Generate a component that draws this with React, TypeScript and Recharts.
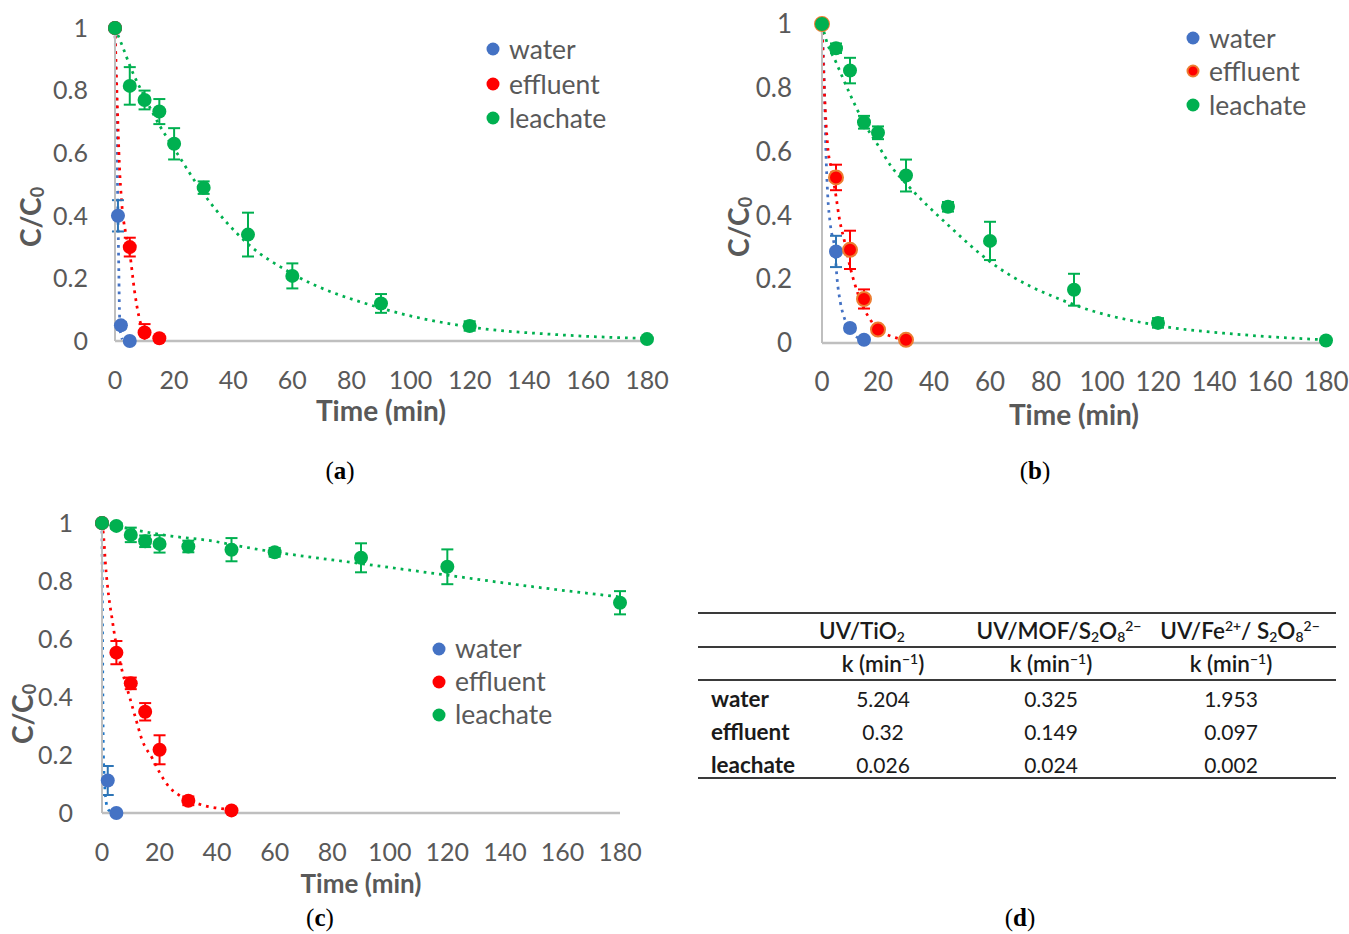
import React from 'react';
import { ComposedChart, Scatter, Line, XAxis, YAxis, ErrorBar } from 'recharts';

const FONT = 'Lato, "Open Sans", sans-serif';
const GREY = '#595959';
const AXIS = '#bfbfbf';
const BLUE = '#4472C4';
const BLUE_ERR = '#2E75B6';
const RED = '#FF0000';
const ORANGE = '#ED7D31';
const GREEN = '#00B050';

const seriesNames = ['water', 'effluent', 'leachate'];
const xTicks = [0, 20, 40, 60, 80, 100, 120, 140, 160, 180];
const yTicks = [0, 0.2, 0.4, 0.6, 0.8, 1];

// ---------- (a) ----------
const aWaterT = [0, 1, 2, 5];
const aWaterV = [1, 0.4, 0.05, 0.0];
const aWaterE = [0, 0.05, 0.01, 0];
const aEffT = [0, 5, 10, 15];
const aEffV = [1, 0.3, 0.027, 0.009];
const aEffE = [0, 0.03, 0.027, 0];
const aLeaT = [0, 5, 10, 15, 20, 30, 45, 60, 90, 120, 180];
const aLeaV = [1, 0.815, 0.77, 0.733, 0.63, 0.49, 0.34, 0.208, 0.12, 0.048, 0.006];
const aLeaE = [0, 0.06, 0.03, 0.04, 0.05, 0.02, 0.07, 0.04, 0.03, 0.015, 0];
const aWaterFitT = [0, 0.4, 0.7, 1, 1.3, 1.5, 1.8, 2.5];
const aWaterFitV = [1, 0.8, 0.6, 0.4, 0.22, 0.1, 0.03, 0.005];
const aEffFitT = [0, 0.7, 1.5, 2.2, 3.7, 5, 6.6, 8.1, 10.3, 15];
const aEffFitV = [1, 0.78, 0.56, 0.45, 0.34, 0.28, 0.16, 0.078, 0.025, 0.006];
const aLeaFitT = [0, 3, 5, 10, 15, 20, 30, 45, 60, 90, 120, 150, 180];
const aLeaFitV = [1, 0.93, 0.88, 0.78, 0.69, 0.615, 0.47, 0.31, 0.215, 0.105, 0.045, 0.02, 0.008];

// ---------- (b) ----------
const bWaterT = [0, 5, 10, 15];
const bWaterV = [1, 0.287, 0.047, 0.01];
const bWaterE = [0, 0.049, 0.01, 0];
const bEffT = [0, 5, 10, 15, 20, 30];
const bEffV = [1, 0.519, 0.292, 0.138, 0.042, 0.01];
const bEffE = [0, 0.04, 0.06, 0.03, 0.012, 0.008];
const bLeaT = [0, 5, 10, 15, 20, 30, 45, 60, 90, 120, 180];
const bLeaV = [1, 0.924, 0.854, 0.692, 0.659, 0.525, 0.427, 0.32, 0.167, 0.063, 0.008];
const bLeaE = [0, 0.015, 0.04, 0.02, 0.02, 0.05, 0.015, 0.06, 0.05, 0.015, 0];
const bWaterFitT = [0, 0.8, 1.4, 2, 3, 4.6, 5.4, 6.5, 8, 10, 12.5, 15];
const bWaterFitV = [1, 0.82, 0.6, 0.47, 0.37, 0.29, 0.2, 0.13, 0.078, 0.04, 0.018, 0.008];
const bEffFitT = [0, 0.8, 2, 3.5, 5, 6.2, 8, 10, 13, 17.5, 21.5, 25, 30];
const bEffFitV = [1, 0.8, 0.62, 0.54, 0.46, 0.39, 0.32, 0.24, 0.15, 0.07, 0.035, 0.02, 0.01];
const bLeaFitT = [0, 1.5, 5, 10, 15, 20, 25, 30, 45, 60, 90, 120, 150, 180];
const bLeaFitV = [1, 0.95, 0.88, 0.78, 0.69, 0.62, 0.55, 0.5, 0.37, 0.255, 0.12, 0.055, 0.026, 0.01];

// ---------- (c) ----------
const cWaterT = [0, 2, 5];
const cWaterV = [1, 0.112, 0];
const cWaterE = [0, 0.05, 0];
const cEffT = [0, 5, 10, 15, 20, 30, 45];
const cEffV = [1, 0.553, 0.447, 0.349, 0.218, 0.042, 0.009];
const cEffE = [0, 0.04, 0.02, 0.03, 0.05, 0.015, 0];
const cLeaT = [0, 5, 10, 15, 20, 30, 45, 60, 90, 120, 180];
const cLeaV = [1, 0.99, 0.959, 0.937, 0.928, 0.919, 0.908, 0.899, 0.88, 0.849, 0.725];
const cLeaE = [0, 0.01, 0.025, 0.02, 0.03, 0.02, 0.04, 0.015, 0.05, 0.06, 0.04];
const cWaterFitT = [0, 0.15, 0.3, 0.5, 0.9, 1.3, 2, 3];
const cWaterFitV = [1, 0.7, 0.4, 0.2, 0.1, 0.05, 0.015, 0.004];
const cEffFitT = [0, 0.6, 1.2, 2.3, 3.5, 4.6, 7, 9.3, 11.6, 14, 17.4, 20, 23.3, 27, 32.5, 37, 41, 45];
const cEffFitV = [1, 0.95, 0.86, 0.75, 0.67, 0.6, 0.49, 0.41, 0.33, 0.25, 0.19, 0.14, 0.09, 0.06, 0.035, 0.022, 0.016, 0.012];
const cLeaFitT = [0, 12, 24, 37, 49, 60, 90, 120, 150, 180];
const cLeaFitV = [1, 0.975, 0.955, 0.94, 0.918, 0.9, 0.86, 0.82, 0.78, 0.745];

// ---------- (d) table ----------
const tableRowNames = ['water', 'effluent', 'leachate'];
const kTiO2 = ['5.204', '0.32', '0.026'];
const kMOF = ['0.325', '0.149', '0.024'];
const kFe = ['1.953', '0.097', '0.002'];

const toPts = (t: number[], v: number[], e?: number[]) =>
  t.map((x, i) => ({ t: x, v: v[i], err: e ? e[i] : 0 }));

type Ser = {
  name: string;
  fill: string;
  stroke?: string;
  errColor: string;
  pts: any[];
  fitColor: string;
  fit: any[];
};

const marker = (fill: string, stroke?: string) => (p: any) => (
  <circle cx={p.cx} cy={p.cy} r={7} fill={fill} stroke={stroke || 'none'} strokeWidth={stroke ? 2 : 0} />
);

function Panel(props: {
  left: number; top: number; width: number; height: number;
  margin: { top: number; right: number; bottom: number; left: number };
  yTickMargin: number; xTickMargin: number; titleDy: number; titleFont: number; tickFont: number;
  yLab: { x: number; y: number };
  series: Ser[];
}) {
  const { left, top, width, height, margin, yTickMargin, xTickMargin, titleDy, titleFont, tickFont, yLab, series } = props;
  const tickStyle = { fill: GREY, fontSize: tickFont, fontFamily: FONT };
  return (
    <div style={{ position: 'absolute', left, top, width, height }}>
      <ComposedChart width={width} height={height} margin={margin}>
        <XAxis
          type="number" dataKey="t" domain={[0, 180]} ticks={xTicks} interval={0}
          tickLine={false} tickSize={0} tickMargin={xTickMargin} height={60}
          axisLine={{ stroke: AXIS, strokeWidth: 2.5 }} tick={tickStyle}
          label={{
            content: (lp: any) => {
              const vb = lp.viewBox || { x: 0, y: 0, width: 0 };
              return (
                <text x={vb.x + vb.width / 2} y={vb.y + titleDy} textAnchor="middle" dominantBaseline="central"
                  fill={GREY} fontFamily={FONT} fontWeight={700} fontSize={titleFont}>Time (min)</text>
              );
            },
          }}
        />
        <YAxis
          type="number" dataKey="v" domain={[0, 1]} ticks={yTicks} interval={0}
          tickLine={false} tickSize={0} tickMargin={yTickMargin} width={60}
          axisLine={{ stroke: AXIS, strokeWidth: 2 }} tick={tickStyle}
          label={{
            content: () => (
              <text x={yLab.x} y={yLab.y} transform={`rotate(-90 ${yLab.x} ${yLab.y})`} textAnchor="middle"
                dominantBaseline="central" fill={GREY} fontFamily={FONT} fontWeight={700} fontSize={28}>
                C/C<tspan fontSize={18} dy={7}>0</tspan>
              </text>
            ),
          }}
        />
        {series.map((s) => (
          <Line key={'fit-' + s.name} data={s.fit} dataKey="v" type="monotone" stroke={s.fitColor}
            strokeWidth={2.75} strokeDasharray="2.75 5" dot={false} activeDot={false}
            isAnimationActive={false} legendType="none" />
        ))}
        {series.map((s) => (
          <Scatter key={s.name} name={s.name} data={s.pts} shape={marker(s.fill, s.stroke)} isAnimationActive={false}>
            <ErrorBar dataKey="err" direction="y" width={6} strokeWidth={2} stroke={s.errColor} />
          </Scatter>
        ))}
      </ComposedChart>
    </div>
  );
}

function LegendBox(props: { left: number; top: number; rowH: number; items: { name: string; fill: string; stroke?: string }[] }) {
  const { left, top, rowH, items } = props;
  return (
    <div style={{ position: 'absolute', left, top, fontFamily: FONT, fontSize: 26.5, color: GREY }}>
      {items.map((it) => (
        <div key={it.name} style={{ height: rowH, display: 'flex', alignItems: 'center' }}>
          <svg width={14} height={14} style={{ display: 'block' }}>
            <circle cx={7} cy={7} r={it.stroke ? 5.5 : 6.5} fill={it.fill} stroke={it.stroke || 'none'} strokeWidth={it.stroke ? 2 : 0} />
          </svg>
          <span style={{ marginLeft: 9, lineHeight: 1 }}>{it.name}</span>
        </div>
      ))}
    </div>
  );
}

function Caption(props: { x: number; y: number; letter: string }) {
  return (
    <div style={{ position: 'absolute', left: props.x - 30, top: props.y - 15, width: 60, textAlign: 'center',
      fontFamily: '"Liberation Serif", "DejaVu Serif", serif', fontSize: 25, color: '#000', lineHeight: '30px' }}>
      (<b>{props.letter}</b>)
    </div>
  );
}

const subS: React.CSSProperties = { fontSize: '0.62em', verticalAlign: '-0.25em', lineHeight: 0 };
const supS: React.CSSProperties = { fontSize: '0.62em', verticalAlign: '0.55em', lineHeight: 0 };

function Cell(props: { cx: number; cy: number; children: any; bold?: number; left?: boolean; size?: number }) {
  const { cx, cy, children, bold, left, size } = props;
  return (
    <div style={{
      position: 'absolute', left: left ? cx : cx - 110, top: cy - 14, width: left ? 150 : 220, height: 28,
      lineHeight: '28px', textAlign: left ? 'left' : 'center', fontFamily: FONT, fontSize: size || 21,
      fontWeight: bold || 400, color: '#1a1a1a', whiteSpace: 'nowrap',
    }}>{children}</div>
  );
}

function Table() {
  const lineYs = [613, 647, 680, 778];
  const colC = [883, 1051, 1231];
  const rowY = [699, 732, 765];
  const kCols = [kTiO2, kMOF, kFe];
  return (
    <div>
      {lineYs.map((y) => (
        <div key={y} style={{ position: 'absolute', left: 698, top: y - 1, width: 638, height: 2, background: '#3a3a3a' }} />
      ))}
      <Cell cx={862} cy={631} bold={600} size={22.5}>UV/TiO<sub style={subS}>2</sub></Cell>
      <Cell cx={1059} cy={631} bold={600} size={22.5}>UV/MOF/S<sub style={subS}>2</sub>O<sub style={subS}>8</sub><sup style={supS}>2−</sup></Cell>
      <Cell cx={1240} cy={631} bold={600} size={22.5}>UV/Fe<sup style={supS}>2+</sup>/ S<sub style={subS}>2</sub>O<sub style={subS}>8</sub><sup style={supS}>2−</sup></Cell>
      {colC.map((c, i) => (
        <Cell key={'u' + i} cx={c} cy={664} bold={600} size={22.5}>k (min<sup style={supS}>−1</sup>)</Cell>
      ))}
      {tableRowNames.map((r, ri) => (
        <Cell key={r} cx={711} cy={rowY[ri]} bold={700} left size={22.5}>{r}</Cell>
      ))}
      {kCols.map((col, ci) =>
        col.map((v, ri) => <Cell key={ci + '-' + ri} cx={colC[ci]} cy={rowY[ri]}>{v}</Cell>)
      )}
    </div>
  );
}

export default function App() {
  const aSeries: Ser[] = [
    { name: seriesNames[0], fill: BLUE, errColor: BLUE_ERR, pts: toPts(aWaterT, aWaterV, aWaterE), fitColor: BLUE, fit: toPts(aWaterFitT, aWaterFitV) },
    { name: seriesNames[1], fill: RED, errColor: RED, pts: toPts(aEffT, aEffV, aEffE), fitColor: RED, fit: toPts(aEffFitT, aEffFitV) },
    { name: seriesNames[2], fill: GREEN, errColor: GREEN, pts: toPts(aLeaT, aLeaV, aLeaE), fitColor: GREEN, fit: toPts(aLeaFitT, aLeaFitV) },
  ];
  const bSeries: Ser[] = [
    { name: seriesNames[0], fill: BLUE, errColor: BLUE_ERR, pts: toPts(bWaterT, bWaterV, bWaterE), fitColor: BLUE, fit: toPts(bWaterFitT, bWaterFitV) },
    { name: seriesNames[1], fill: RED, stroke: ORANGE, errColor: RED, pts: toPts(bEffT, bEffV, bEffE), fitColor: RED, fit: toPts(bEffFitT, bEffFitV) },
    { name: seriesNames[2], fill: GREEN, errColor: GREEN, pts: toPts(bLeaT, bLeaV, bLeaE), fitColor: GREEN, fit: toPts(bLeaFitT, bLeaFitV) },
  ];
  const cSeries: Ser[] = [
    { name: seriesNames[0], fill: BLUE, errColor: BLUE_ERR, pts: toPts(cWaterT, cWaterV, cWaterE), fitColor: '#1F77C8', fit: toPts(cWaterFitT, cWaterFitV) },
    { name: seriesNames[1], fill: RED, errColor: RED, pts: toPts(cEffT, cEffV, cEffE), fitColor: RED, fit: toPts(cEffFitT, cEffFitV) },
    { name: seriesNames[2], fill: GREEN, errColor: GREEN, pts: toPts(cLeaT, cLeaV, cLeaE), fitColor: GREEN, fit: toPts(cLeaFitT, cLeaFitV) },
  ];
  return (
    <div style={{ position: 'absolute', left: 0, top: 0, width: 1349, height: 934, background: '#fff', overflow: 'hidden' }}>
      <Panel left={0} top={0} width={680} height={440}
        margin={{ top: 28, right: 33, bottom: 39, left: 55 }}
        yTickMargin={27} xTickMargin={30} titleDy={69} titleFont={28} tickFont={25}
        yLab={{ x: 30, y: 217 }} series={aSeries} />
      <LegendBox left={486} top={32} rowH={34.5}
        items={aSeries.map((s) => ({ name: s.name, fill: s.fill, stroke: s.stroke }))} />

      <Panel left={680} top={0} width={669} height={440}
        margin={{ top: 24, right: 23, bottom: 37, left: 82 }}
        yTickMargin={30} xTickMargin={30} titleDy={71} titleFont={28} tickFont={26}
        yLab={{ x: 58, y: 227 }} series={bSeries} />
      <LegendBox left={1186} top={21} rowH={33.5}
        items={bSeries.map((s) => ({ name: s.name, fill: s.fill, stroke: s.stroke }))} />

      <Panel left={0} top={480} width={680} height={440}
        margin={{ top: 43, right: 60, bottom: 47, left: 42 }}
        yTickMargin={29} xTickMargin={30} titleDy={70} titleFont={26} tickFont={25}
        yLab={{ x: 22, y: 234 }} series={cSeries} />
      <LegendBox left={432} top={632} rowH={33}
        items={cSeries.map((s) => ({ name: s.name, fill: s.fill, stroke: s.stroke }))} />

      <Table />

      <Caption x={340} y={471} letter="a" />
      <Caption x={1035} y={471} letter="b" />
      <Caption x={320} y={918} letter="c" />
      <Caption x={1020} y={918} letter="d" />
    </div>
  );
}
